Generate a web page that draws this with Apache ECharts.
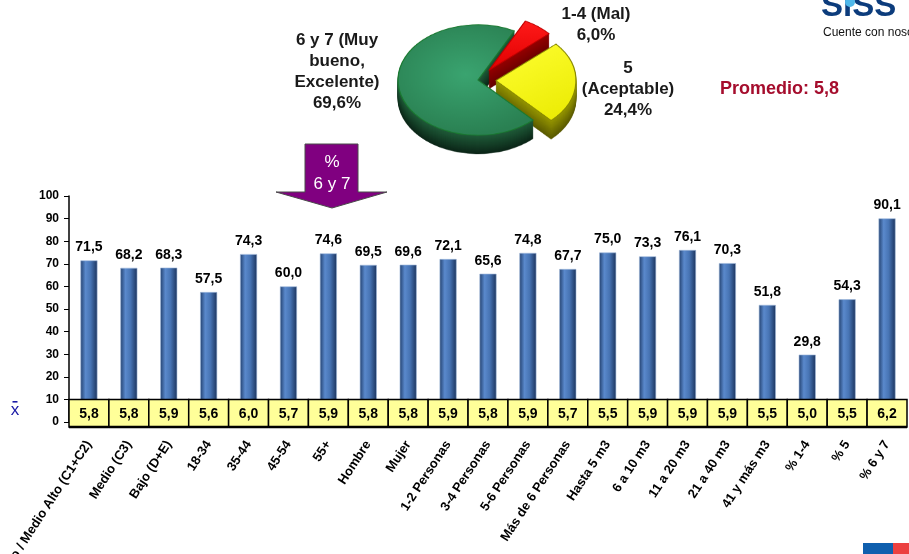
<!DOCTYPE html>
<html>
<head>
<meta charset="utf-8">
<script src="https://cdn.jsdelivr.net/npm/echarts@6/dist/echarts.min.js"></script>
<style>
  html, body { margin: 0; padding: 0; background: #fff; }
  #main { position: absolute; left: 0; top: 0; width: 909px; height: 554px; }
  /* the pie is drawn round, then flattened into a tilted disc */
  #pie { position: absolute; left: 368px; top: 11px; width: 220px; height: 260px;
         transform: scaleY(0.69); transform-origin: 0 0; }
</style>
</head>
<body>
<div id="main"></div>
<div id="pie"></div>
<script>
// ---- data ----
const categories = [
  'Alto / Medio Alto (C1+C2)', 'Medio (C3)', 'Bajo (D+E)', '18-34', '35-44', '45-54', '55+',
  'Hombre', 'Mujer', '1-2 Personas', '3-4 Personas', '5-6 Personas', 'Más de 6 Personas',
  'Hasta 5 m3', '6 a 10 m3', '11 a 20 m3', '21 a 40 m3', '41 y más m3', '% 1-4', '% 5', '% 6 y 7'
];
const pctSixSeven = [71.5, 68.2, 68.3, 57.5, 74.3, 60.0, 74.6, 69.5, 69.6, 72.1, 65.6,
                     74.8, 67.7, 75.0, 73.3, 76.1, 70.3, 51.8, 29.8, 54.3, 90.1];
const means = [5.8, 5.8, 5.9, 5.6, 6.0, 5.7, 5.9, 5.8, 5.8, 5.9, 5.8,
               5.9, 5.7, 5.5, 5.9, 5.9, 5.9, 5.5, 5.0, 5.5, 6.2];
const pieNames = ['1-4 (Mal)', '5 (Aceptable)', '6 y 7 (Muy bueno, Excelente)'];
const pieLabelLines = ['1-4 (Mal)', '5\n(Aceptable)', '6 y 7 (Muy\nbueno,\nExcelente)'];
const pieValues = [6.0, 24.4, 69.6];
const overallMean = 5.8;

const FONT = "'Liberation Sans', Arial, Helvetica, sans-serif";
const fmt = v => v.toFixed(1).replace('.', ',');

// ---- main bar chart ----
const main = echarts.init(document.getElementById('main'), null, { renderer: 'canvas' });

const barGradient = new echarts.graphic.LinearGradient(0, 0, 1, 0, [
  { offset: 0, color: '#22406e' },
  { offset: 0.3, color: '#5a89cc' },
  { offset: 0.6, color: '#4774b4' },
  { offset: 1, color: '#1b335c' }
]);

function boxRow(params, api) {
  const i = api.value(0);
  const top = api.coord([i, 10]);
  const bot = api.coord([i, -2.2]);
  const w = api.size([1, 0])[0];
  const x0 = top[0] - w / 2;
  return {
    type: 'group',
    children: [
      { type: 'rect', shape: { x: x0, y: top[1], width: w, height: bot[1] - top[1] },
        style: { fill: '#ffff99', stroke: '#000', lineWidth: 1.5 } },
      { type: 'line', shape: { x1: x0, y1: bot[1], x2: x0 + w, y2: bot[1] },
        style: { stroke: '#000', lineWidth: 2.5 } },
      { type: 'text', style: { text: fmt(api.value(1)), x: top[0], y: (top[1] + bot[1]) / 2 + 0.5,
        align: 'center', verticalAlign: 'middle', textAlign: 'center', textVerticalAlign: 'middle',
        fontFamily: FONT, fontWeight: 'bold', fontSize: 14, fill: '#000' } }
    ]
  };
}

function txt(text, x, y, opts) {
  return {
    type: 'text',
    style: Object.assign({
      text: text, x: x, y: y,
      textAlign: 'center', align: 'center', textVerticalAlign: 'top', verticalAlign: 'top',
      fontFamily: FONT, fontWeight: 'bold', fontSize: 17, lineHeight: 21, fill: '#1a1a1a'
    }, opts || {})
  };
}

main.setOption({
  animation: false,
  grid: { left: 69, right: 2, top: 196, bottom: 132, containLabel: false, outerBoundsMode: 'none' },
  xAxis: {
    type: 'category',
    data: categories,
    axisLine: { show: false },
    axisTick: { show: false },
    axisLabel: { interval: 0, rotate: 57, margin: 20, fontFamily: FONT, fontWeight: 'bold',
                 fontSize: 13, color: '#000' }
  },
  yAxis: {
    type: 'value', min: 0, max: 100, interval: 10,
    axisLine: { show: true, lineStyle: { color: '#000', width: 1.5 } },
    axisTick: { show: true, length: 5, lineStyle: { color: '#000', width: 1 } },
    splitLine: { show: false },
    axisLabel: { margin: 10, fontFamily: FONT, fontWeight: 'bold', fontSize: 12, color: '#000' }
  },
  series: [
    {
      type: 'bar',
      data: pctSixSeven,
      barWidth: 17,
      itemStyle: { color: barGradient, borderColor: '#9fb8dc', borderWidth: 0.6 },
      label: { show: true, position: 'top', distance: 6, formatter: p => fmt(p.value),
               fontFamily: FONT, fontWeight: 'bold', fontSize: 14, color: '#000' },
      z: 2
    },
    {
      type: 'custom',
      data: means.map((m, i) => [i, m]),
      renderItem: boxRow,
      clip: false,
      z: 5
    }
  ],
  graphic: [
    // pie slice labels
    txt(pieLabelLines[2] + '\n' + fmt(pieValues[2]) + '%', 337, 30),
    txt(pieLabelLines[0] + '\n' + fmt(pieValues[0]) + '%', 596, 4),
    txt(pieLabelLines[1] + '\n' + fmt(pieValues[1]) + '%', 628, 58),
    // overall mean
    txt('Promedio: ' + fmt(overallMean), 720, 89,
        { textAlign: 'left', align: 'left', textVerticalAlign: 'middle', verticalAlign: 'middle',
          fontSize: 18, fill: '#a50d2d' }),
    // purple arrow pointing at the bars
    { type: 'polygon', shape: { points: [[305, 144], [358, 144], [358, 192], [387, 192],
                                         [332, 208], [276, 192], [305, 192]] },
      style: { fill: '#800080', stroke: '#4a4a4a', lineWidth: 1 } },
    txt('%', 332, 162, { textVerticalAlign: 'middle', verticalAlign: 'middle', fontWeight: 'normal', fill: '#fff' }),
    txt('6 y 7', 332, 184, { textVerticalAlign: 'middle', verticalAlign: 'middle', fontWeight: 'normal', fill: '#fff' }),
    // mean symbol beside the box row
    { type: 'rect', shape: { x: 12.5, y: 401, width: 5, height: 1.6 }, style: { fill: '#1a1aa6' } },
    txt('x', 15, 410, { textVerticalAlign: 'middle', verticalAlign: 'middle', fontWeight: 'normal',
                        fontSize: 17, fill: '#1a1aa6' }),
    // logo
    txt('SiSS', 821, 6.5, { textAlign: 'left', align: 'left', textVerticalAlign: 'middle', verticalAlign: 'middle',
                          fontSize: 33, fontWeight: 900, fill: '#0c3c7c' }),
    { type: 'circle', shape: { cx: 850, cy: 2, r: 5 }, style: { fill: '#4fb8ea' } },
    txt('Cuente con nosotros', 823, 33, { textAlign: 'left', align: 'left', textVerticalAlign: 'middle',
                          verticalAlign: 'middle', fontSize: 12, fontWeight: 'normal', fill: '#111' }),
    // corner stripe
    { type: 'rect', shape: { x: 863, y: 543, width: 30, height: 11 }, style: { fill: '#0f5fae' } },
    { type: 'rect', shape: { x: 893, y: 543, width: 16, height: 11 }, style: { fill: '#ec4040' } }
  ]
});

// ---- 3D-looking pie ----
const pie = echarts.init(document.getElementById('pie'), null, { renderer: 'canvas' });
const topColors = [
  new echarts.graphic.LinearGradient(0, 0, 0, 1, [{ offset: 0, color: '#ff1a1a' }, { offset: 1, color: '#e00000' }]),
  new echarts.graphic.LinearGradient(0, 0, 1, 1, [{ offset: 0, color: '#ffff33' }, { offset: 1, color: '#eaea00' }]),
  new echarts.graphic.RadialGradient(0.5, 0.45, 0.65, [{ offset: 0, color: '#3aa470' }, { offset: 1, color: '#2a8052' }])
];
const topBorders = ['#c00000', '#8a8a00', '#1a7a30'];
// side walls: lighter near the top face, darker towards the bottom rim
const sideTop = [[150, 0, 0], [150, 150, 0], [32, 92, 58]];
const sideBot = [[100, 0, 0], [90, 90, 0], [12, 38, 24]];
const PIE_CX = 110, PIE_CY = 100, PIE_R = 80, DEPTH = 27;

function mix(a, b, t) {
  return 'rgb(' + a.map((c, j) => Math.round(c + (b[j] - c) * t)).join(',') + ')';
}

function pieSeries(cy, colors, borders, bw) {
  return {
    type: 'pie',
    center: [PIE_CX, cy],
    radius: PIE_R,
    startAngle: 63,
    clockwise: true,
    selectedMode: 'multiple',
    selectedOffset: 18,
    silent: true,
    animation: false,
    label: { show: false },
    labelLine: { show: false },
    emphasis: { disabled: true },
    data: pieValues.map((v, i) => {
      const st = { color: colors[i], borderColor: borders ? borders[i] : colors[i], borderWidth: bw };
      return { name: pieNames[i], value: v, selected: i < 2, itemStyle: st, select: { itemStyle: st } };
    })
  };
}

const pieSeriesList = [];
for (let k = DEPTH; k >= 1; k--) {
  const t = k / DEPTH;
  const cols = sideTop.map((c, i) => mix(c, sideBot[i], t));
  pieSeriesList.push(pieSeries(PIE_CY + k, cols, null, 0.5));
}
pieSeriesList.push(pieSeries(PIE_CY, topColors, topBorders, 1.2));
pie.setOption({ animation: false, series: pieSeriesList });
</script>
</body>
</html>
